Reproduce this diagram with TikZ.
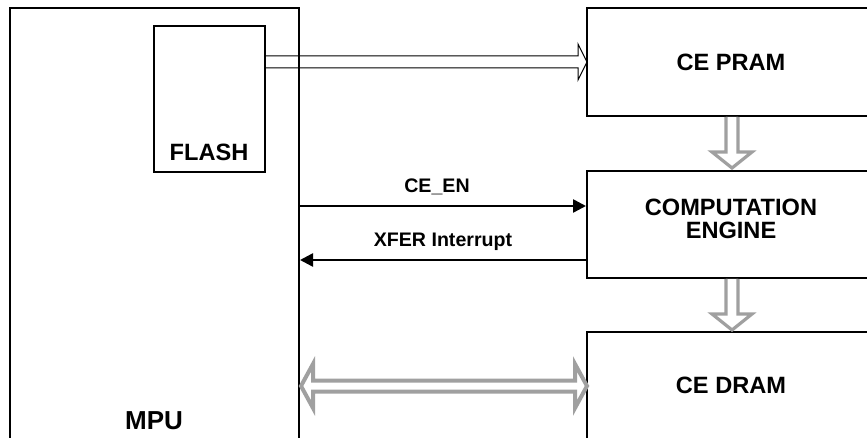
\documentclass[tikz,border=0pt]{standalone}
\usepackage{fontspec}
\setmainfont{Liberation Sans}
\usetikzlibrary{arrows.meta,calc}
\begin{document}
\begin{tikzpicture}[x=1pt,y=-1pt,
  box/.style={draw,line width=2pt,inner sep=0pt},
  big/.style={font=\bfseries\fontsize{23.6}{23}\selectfont,align=center,inner sep=0pt},
  sml/.style={font=\bfseries\fontsize{19.6}{22}\selectfont,inner sep=0pt},
  sig/.style={line width=2.5pt,-{Triangle[length=13pt,width=13pt]}},
  hollow/.style={draw=black,line width=1pt,fill=white,line join=miter},
  grayarr/.style={draw={rgb,255:red,160;green,160;blue,160},line width=3.2pt,fill=white,line join=miter}]
\useasboundingbox (0,0) rectangle (867,438);
\fill[white] (0,0) rectangle (867,438);
% hollow arrow FLASH -> CE PRAM
\draw[hollow] (265,56) -- (578,56) -- (578,44) -- (587,62) -- (578,80) -- (578,68) -- (265,68) -- cycle;
% boxes
\node[box,minimum width=289pt,minimum height=452pt] (mpu) at (154.5,234) {};
\node[big,font=\bfseries\fontsize{26}{28}\selectfont] (mpulbl) at (154,421) {MPU};
\node[draw,line width=1.5pt,inner sep=0pt,minimum width=111pt,minimum height=146pt] (flash) at (209.5,99) {};
\node[big] (flashlbl) at (209,152) {FLASH};
\node[box,minimum width=288pt,minimum height=108pt] (pram) at (731,62) {};
\node[big] (pramlbl) at (731,62) {CE PRAM};
\node[box,minimum width=288pt,minimum height=107pt] (ce) at (731,224.5) {};
\node[big] (celbl) at (731,219) {COMPUTATION\\ENGINE};
\node[box,minimum width=288pt,minimum height=128pt] (dram) at (731,396) {};
\node[big] (dramlbl) at (731,385) {CE DRAM};
% gray down arrows
\draw[grayarr] (726,117) -- (726,152) -- (712,152) -- (732,168) -- (752,152) -- (738,152) -- (738,117);
\draw[grayarr] (726,279) -- (726,314) -- (712,314) -- (732,330) -- (752,314) -- (738,314) -- (738,279);
% double gray arrow
\draw[grayarr,line width=4pt] (301,386) -- (313,364) -- (313,380.5) -- (575,380.5) -- (575,364) -- (587,386) -- (575,408) -- (575,391.5) -- (313,391.5) -- (313,408) -- cycle;
% signals
\draw[sig] (mpu.east |- 0,206) -- (ce.west |- 0,206);
\node[sml] (cen) at (437,187) {CE\_EN};
\draw[sig] (ce.west |- 0,260) -- (mpu.east |- 0,260);
\node[sml] (xfer) at (443,242) {XFER Interrupt};
\end{tikzpicture}
\end{document}
